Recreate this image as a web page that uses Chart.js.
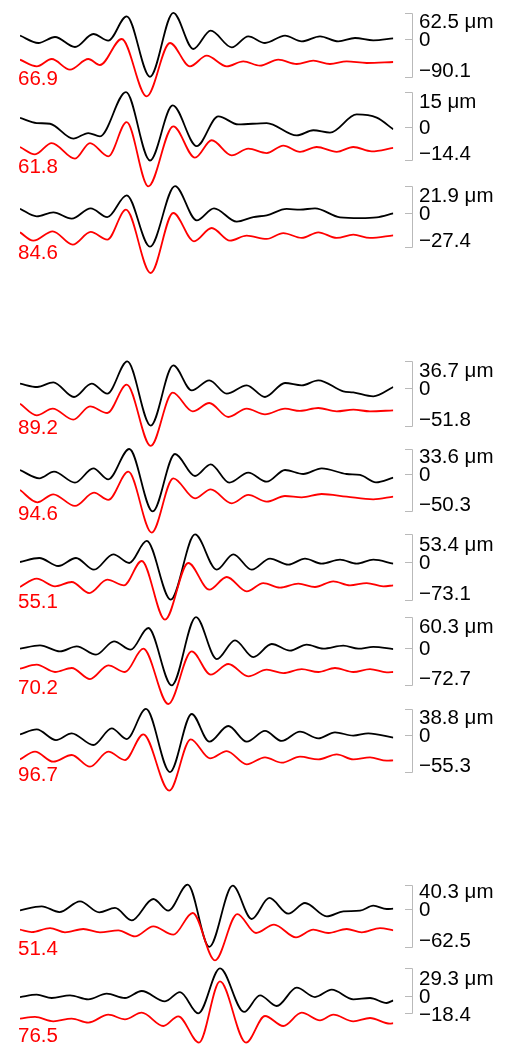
<!DOCTYPE html>
<html>
<head>
<meta charset="utf-8">
<script src="https://cdn.jsdelivr.net/npm/chart.js@4.4.1/dist/chart.umd.min.js"></script>
<style>
  html, body { margin: 0; padding: 0; background: #fff; }
  body { width: 507px; height: 1052px; overflow: hidden; position: relative; }
  canvas { position: absolute; left: 0; }
</style>
</head>
<body>
<script>
// axis bracket values per panel (µm) and the fit numbers written in red
const topTicks = [62.5, 15, 21.9, 36.7, 33.6, 53.4, 60.3, 38.8, 40.3, 29.3];
const bottomTicks = [-90.1, -14.4, -27.4, -51.8, -50.3, -73.1, -72.7, -55.3, -62.5, -18.4];
const fitLabels = ['66.9', '61.8', '84.6', '89.2', '94.6', '55.1', '70.2', '96.7', '51.4', '76.5'];

// traces: [sample, µm]  black = measured, red = model (drawn offset below)
const black1 = [[0,8.0],[18.3,-9.5],[35,4.8],[55,-19.1],[73.3,11.9],[88.3,-4.0],[106.7,54.1],[130,-90.1],[153.3,62.5],[173.3,-23.9],[190.7,19.9],[211.7,-19.9],[228.3,6.4],[245,-9.5],[265,8.0],[281.7,-5.6],[300,6.4],[318.3,-5.6],[335,2.4],[353.3,-3.2],[373.3,1.6]];
const red1 = [[0,-49.3],[16.7,-65.2],[31.7,-47.7],[50,-73.1],[68.3,-47.7],[80,-62.0],[101.7,0],[126.7,-136.7],[150,-9.5],[170,-65.2],[186.7,-39.8],[206.7,-65.2],[223.3,-53.3],[240,-63.6],[258.3,-49.3],[276.7,-59.6],[293.3,-51.7],[310,-59.6],[326.7,-53.3],[346.7,-57.2],[373.3,-54.9]];

const black2 = [[0,3.9],[16.7,1.7],[30,1.4],[53.3,-5.0],[68.3,-2.6],[80,-4.0],[106,15.0],[130,-14.4],[152.7,9.3],[176.7,-8.2],[198.3,4.6],[218.3,1.1],[246.7,1.7],[276.7,-3.6],[293.3,-1.4],[310,-2.4],[336.7,5.4],[356.7,4.0],[373.3,-1.0]];
const red2 = [[0,-8.6],[15,-11.8],[31.7,-6.9],[55,-13.6],[70,-6.9],[88.3,-12.6],[106.7,2.1],[128.3,-25.5],[153.3,0.3],[175,-13.2],[191.7,-5.7],[211.7,-12.2],[228.3,-9.3],[246.7,-11.2],[263.3,-8.0],[280,-10.7],[296.7,-8.6],[316.7,-10.7],[333.3,-8.6],[351.7,-10.5],[373.3,-9.0]];

const black3 = [[0,3.5],[16.7,-2.7],[33.3,0.5],[51.7,-4.6],[70.7,3.8],[87.3,-3.3],[106.7,14.4],[130,-27.4],[155,21.9],[176.7,-6.0],[194,3.8],[216.7,-7.0],[233.3,-3.3],[246.7,-1.9],[266.7,3.3],[280,2.7],[295,3.8],[320,-3.5],[340,-4.1],[356.7,-3.5],[373.3,-0.3]];
const red3 = [[0,-15.7],[13.3,-22.5],[32.7,-14.9],[52.7,-25.7],[70.7,-15.4],[87.3,-21.7],[106,2.7],[130.7,-48.8],[153.3,0],[174,-23.0],[191.7,-12.2],[210,-22.5],[226.7,-18.4],[246.7,-21.1],[263.3,-16.3],[281.7,-20.3],[298.3,-15.7],[316.7,-20.3],[333.3,-17.6],[350,-20.3],[373.3,-18.2]];

const black4 = [[0,6.0],[17.3,1.4],[33.3,7.8],[54,-12.4],[71.7,6.0],[87.3,-7.8],[107.3,36.7],[130.7,-51.8],[153.3,31.3],[171.7,-3.2],[189.3,10.6],[206.7,-7.8],[226.7,3.7],[245,-12.4],[265,6.9],[281.7,3.7],[298.3,10.6],[323.3,-4.6],[333.3,-6.0],[353.3,-11.5],[373.3,1.4]];
const red4 = [[0,-21.6],[16.7,-37.7],[32.7,-28.5],[53.3,-43.7],[70,-25.3],[87.3,-34.5],[106.7,4.6],[130.7,-80.0],[152.7,-6.4],[172.7,-32.2],[189.3,-20.7],[208.3,-40.0],[226.7,-28.5],[245,-36.3],[265,-28.5],[280,-31.7],[298.3,-27.6],[316.7,-32.2],[333.3,-29.9],[350,-32.2],[373.3,-30.8]];

const black5 = [[0,5.4],[19.3,-5.8],[34,3.1],[55,-11.6],[73.3,7.6],[88.3,-7.2],[109.3,33.6],[132.7,-50.3],[155,26.9],[175,-2.7],[190.7,13.0],[209.3,-11.6],[228.3,1.8],[246.7,-10.3],[265,5.4],[283.3,0],[301.7,7.6],[326.7,0],[340,-1.3],[356,-11.2],[373.3,-4.9]];
const red5 = [[0,-21.5],[17.3,-38.1],[33.3,-27.3],[55,-43.0],[74,-25.1],[88.3,-34.9],[108.3,3.1],[131.7,-78.8],[153.3,-5.8],[175,-32.7],[190.7,-20.6],[211.7,-39.4],[228.3,-28.2],[246.7,-37.2],[265,-29.6],[281.7,-31.4],[301.7,-26.9],[326.7,-30.5],[353.3,-34.0],[373.3,-30.5]];

const black6 = [[0,0],[19.3,7.8],[38.3,-7.8],[56,7.8],[74,-14.9],[93.3,14.9],[109.3,-1.9],[126.7,40.8],[150.7,-73.1],[175,53.4],[196.7,-14.9],[213.3,14.9],[231.7,-14.9],[250,6.5],[268.3,-5.2],[285,6.5],[301.7,-3.2],[320,4.5],[336.7,-3.2],[353.3,4.5],[373.3,-3.2]];
const red6 = [[0,-48.5],[16.7,-32.4],[35,-47.2],[51.7,-38.8],[69.3,-60.2],[87.3,-34.3],[104,-45.3],[121.7,1.9],[145,-111.9],[168.3,-1.9],[189.3,-53.7],[206.7,-29.1],[226.7,-56.9],[243.3,-40.8],[260,-49.8],[278.3,-42.1],[295,-48.5],[313.3,-37.5],[330,-45.3],[346.7,-40.8],[363.3,-47.2],[373.3,-45.3]];

const black7 = [[0,-1.3],[20,5.2],[40,-6.5],[56.7,3.3],[76,-13.0],[94,13.0],[110.7,-3.3],[128.3,39.0],[151.7,-72.7],[176,60.3],[196.7,-21.5],[215,15.0],[233.3,-17.6],[251.7,7.8],[270,-5.2],[286.7,6.5],[303.3,-1.3],[323.3,4.6],[338.3,-1.3],[353.3,2.0],[373.3,-2.0]];
const red7 = [[0,-40.3],[16.7,-32.5],[35,-46.8],[51.7,-39.0],[70,-60.5],[88.3,-33.8],[105,-46.8],[123.3,-1.3],[148.3,-109.2],[171.7,-6.5],[190.7,-52.0],[208.3,-31.2],[228.3,-55.3],[246.7,-42.3],[263.3,-48.8],[281.7,-41.0],[298.3,-46.8],[315,-39.0],[333.3,-46.8],[350,-41.0],[366.7,-47.5],[373.3,-46.8]];

const black8 = [[0,1.0],[16.7,8.4],[36,-7.5],[51.7,2.5],[73.3,-14.9],[91.7,9.9],[106.7,-6.0],[126,38.8],[150,-55.3],[171.7,31.3],[189.3,-9.9],[208.3,13.4],[226.7,-9.9],[245,6.0],[261.7,-8.9],[280,5.0],[298.3,-5.0],[315,4.0],[333.3,-1.0],[348.3,2.5],[373.3,-4.0]];
const red8 = [[0,-36.3],[15,-24.9],[33.3,-39.8],[51.7,-29.8],[70,-47.2],[88.3,-24.9],[105,-37.3],[123.3,1.0],[149.3,-83.0],[170.7,-6.5],[190,-34.8],[206.7,-23.9],[226.7,-43.7],[245,-33.3],[261.7,-41.3],[280,-32.3],[298.3,-36.3],[316.7,-28.8],[333.3,-36.3],[350,-33.3],[366.7,-38.3],[373.3,-37.8]];

const black9 = [[0,-2.2],[21.7,4.4],[39.3,-5.0],[60,12.7],[79.3,-5.5],[95,1.7],[111.7,-18.7],[133.3,16.5],[148.3,-2.8],[167.7,40.3],[189.3,-62.5],[212.7,38.5],[231.7,-16.5],[249.3,18.2],[268.3,-7.7],[285,9.9],[306.7,-12.1],[323.3,-3.9],[340,-2.8],[353.3,5.5],[366.7,0],[373.3,0.6]];
const red9 = [[0,-34.1],[11.7,-38.0],[30,-31.4],[45,-38.5],[63.3,-33.0],[80,-38.5],[98.3,-35.2],[115,-45.1],[133.3,-28.6],[153.3,-42.4],[172.7,-6.6],[195,-84.7],[217.3,-8.3],[236,-39.6],[254,-25.9],[276,-46.8],[293.3,-34.1],[308.3,-39.6],[326.7,-33.0],[341.7,-38.5],[360,-31.4],[373.3,-35.2]];

const black10 = [[0,-1.1],[16.7,1.4],[31.7,-2.1],[50,0.7],[68.3,-3.5],[86.7,2.5],[105,-2.1],[121.7,5.3],[145,-5.6],[160,4.2],[178.3,-18.4],[200,29.3],[224,-16.9],[240,0.7],[256.7,-10.6],[276.7,8.8],[295,-1.1],[311.7,6.7],[333.3,-3.5],[350,-2.1],[366.7,-7.4],[373.3,-4.6]];
const red10 = [[0,-24.0],[15,-22.2],[33.3,-26.8],[51.7,-24.0],[68.3,-28.2],[88.3,-19.8],[105,-24.7],[121.7,-17.7],[143.3,-31.8],[158.3,-21.5],[179,-49.4],[200,15.5],[226,-49.4],[245,-21.2],[263.3,-31.8],[281.7,-17.7],[300,-25.8],[313.3,-19.8],[333.3,-26.8],[350,-23.3],[370,-29.3],[373.3,-28.9]];

const blackTraces = [black1, black2, black3, black4, black5, black6, black7, black8, black9, black10];
const redTraces = [red1, red2, red3, red4, red5, red6, red7, red8, red9, red10];

// layout: page y of each panel's zero line and µm per pixel
const zeroY = [39.3, 126.7, 213.3, 387.7, 474, 561.7, 648.3, 735, 909.3, 995.7];
const umPerPx = [2.385, 0.43, 0.813, 1.38, 1.345, 1.94, 1.95, 1.49, 1.65, 1.06];

const FONT_PX = 20.5;
const FONT = FONT_PX + 'px "Liberation Sans", Arial, sans-serif';
const HALF_DIGIT = 0.358 * FONT_PX;

const bracketPlugin = {
  id: 'bracket',
  afterDraw(chart, args, opts) {
    const ctx = chart.ctx;
    const y = chart.scales.y;
    const yt = y.getPixelForValue(opts.top);
    const y0 = y.getPixelForValue(0);
    const yb = y.getPixelForValue(opts.bottom);
    ctx.save();
    ctx.strokeStyle = '#b9b9b9';
    ctx.lineWidth = 1;
    ctx.beginPath();
    ctx.moveTo(405, Math.round(yt) + 0.5);
    ctx.lineTo(412.5, Math.round(yt) + 0.5);
    ctx.lineTo(412.5, Math.round(yb) + 0.5);
    ctx.lineTo(405, Math.round(yb) + 0.5);
    ctx.moveTo(405, Math.round(y0) + 0.5);
    ctx.lineTo(412.5, Math.round(y0) + 0.5);
    ctx.stroke();

    ctx.font = FONT;
    ctx.textBaseline = 'alphabetic';
    ctx.textAlign = 'left';
    ctx.fillStyle = '#000';
    const zeroBase = y0 + HALF_DIGIT;
    const topBase = Math.min(yt + 1.7 + 2 * HALF_DIGIT, zeroBase - 18);
    const bottomBase = Math.max(yb, zeroBase + 18);
    const fmt = v => (v < 0 ? '\u2212' + Math.abs(v) : String(v));
    ctx.fillText(fmt(opts.top) + ' \u03bcm', 419, topBase);
    ctx.fillText('0', 419, zeroBase);
    ctx.fillText(fmt(opts.bottom), 419, bottomBase);

    ctx.fillStyle = '#ff0000';
    ctx.fillText(opts.label, 18, y0 + 38.5 + HALF_DIGIT);
    ctx.restore();
  }
};

const toXY = pts => pts.map(([x, y]) => ({ x, y }));

for (let i = 0; i < blackTraces.length; i++) {
  const cv = document.createElement('canvas');
  cv.width = 507;
  cv.height = 110;
  cv.style.top = (zeroY[i] - 45) + 'px';
  document.body.appendChild(cv);

  new Chart(cv.getContext('2d'), {
    type: 'line',
    data: {
      datasets: [
        { data: toXY(redTraces[i]), borderColor: '#ff0000', borderWidth: 1.8 },
        { data: toXY(blackTraces[i]), borderColor: '#000000', borderWidth: 1.8 }
      ]
    },
    options: {
      responsive: false,
      animation: false,
      devicePixelRatio: 1,
      layout: { padding: { left: 20, right: 113.7, top: 0, bottom: 0 } },
      elements: {
        point: { radius: 0 },
        line: { cubicInterpolationMode: 'monotone', fill: false }
      },
      scales: {
        x: { type: 'linear', min: 0, max: 373.3, display: false },
        y: { min: -65 * umPerPx[i], max: 45 * umPerPx[i], display: false }
      },
      plugins: {
        legend: { display: false },
        tooltip: { enabled: false },
        bracket: { top: topTicks[i], bottom: bottomTicks[i], label: fitLabels[i] }
      }
    },
    plugins: [bracketPlugin]
  });
}
</script>
</body>
</html>
